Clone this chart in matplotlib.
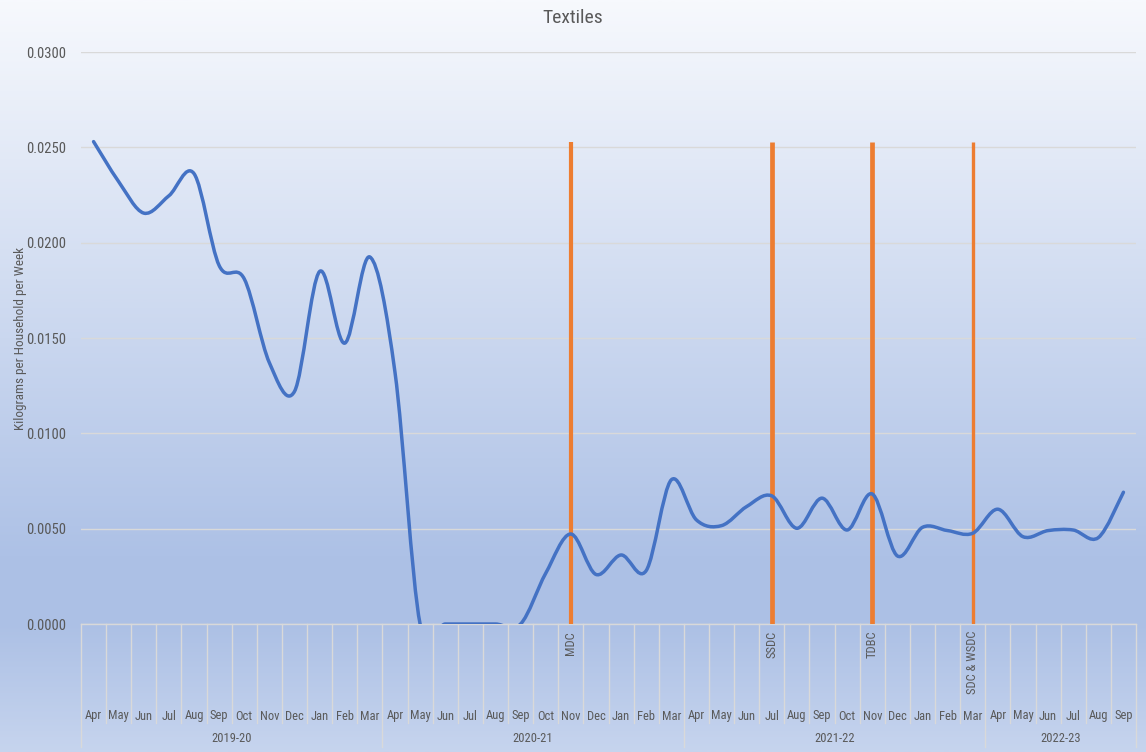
import os
import numpy as np
import matplotlib
matplotlib.use("Agg")
import matplotlib.pyplot as plt
from matplotlib.path import Path
from matplotlib.patches import PathPatch
from matplotlib.colors import LinearSegmentedColormap
import matplotlib.transforms as mtransforms
from matplotlib import font_manager as fm

# ---------------- data ----------------
months = ["Apr", "May", "Jun", "Jul", "Aug", "Sep", "Oct", "Nov", "Dec", "Jan", "Feb", "Mar",
          "Apr", "May", "Jun", "Jul", "Aug", "Sep", "Oct", "Nov", "Dec", "Jan", "Feb", "Mar",
          "Apr", "May", "Jun", "Jul", "Aug", "Sep", "Oct", "Nov", "Dec", "Jan", "Feb", "Mar",
          "Apr", "May", "Jun", "Jul", "Aug", "Sep"]
years = ["2019-20", "2020-21", "2021-22", "2022-23"]
year_lengths = [12, 12, 12, 6]

textiles = [0.0253, 0.0232, 0.02155, 0.02246, 0.02362, 0.0188, 0.0181, 0.0137, 0.0122, 0.01849, 0.01473, 0.01925,
            0.0132, 0.0, 0.0, 0.0, 0.0, 0.0, 0.00266, 0.00472, 0.0026, 0.00362, 0.0028, 0.00756,
            0.00546, 0.00516, 0.00616, 0.00672, 0.00502, 0.0066, 0.00493, 0.00682, 0.00357, 0.00507, 0.0049, 0.00476,
            0.00602, 0.00458, 0.0049, 0.00493, 0.00453, 0.00691]

event_labels = ["MDC", "SSDC", "TDBC", "SDC & WSDC"]
event_index = [19, 27, 31, 35]
event_height = [0.0253, 0.0253, 0.0253, 0.0253]

# ---------------- font choice (prefer a narrow sans) ----------------
narrow_fp = None
cands = ["LiberationSansNarrow-Regular", "ArialNarrow", "Arial Narrow", "RobotoCondensed-Regular",
         "Roboto_Condensed", "OpenSans_Condensed-Regular", "OpenSansCondensed", "DejaVuSansCondensed.ttf"]
files = [f.fname for f in fm.fontManager.ttflist]
for c in cands:
    hit = [p for p in files if c.lower() in os.path.basename(p).lower()
           and "bold" not in os.path.basename(p).lower() and "italic" not in os.path.basename(p).lower()
           and "oblique" not in os.path.basename(p).lower()]
    if hit:
        narrow_fp = hit[0]
        break


def fp(size):
    if narrow_fp:
        return fm.FontProperties(fname=narrow_fp, size=size)
    return fm.FontProperties(family=["Liberation Sans", "DejaVu Sans"], size=size * 0.92)


# ---------------- figure ----------------
W, H = 1146, 752
fig = plt.figure(figsize=(W / 100, H / 100), dpi=100)
plt.rcParams["font.family"] = ["Liberation Sans", "DejaVu Sans"]
grey = "#595959"

# background gradient
bg = fig.add_axes([0, 0, 1, 1], zorder=-10)
cmap = LinearSegmentedColormap.from_list(
    "bg", [(0.0, "#f7f9fd"), (0.74, "#adc1e6"), (0.83, "#acc0e5"), (1.0, "#c6d4ee")])
grad = np.linspace(0, 1, 512).reshape(-1, 1)
bg.imshow(grad, aspect="auto", cmap=cmap, extent=[0, 1, 0, 1], origin="upper")
bg.set_axis_off()

left_px, right_px, top_px, bottom_px = 81, 1136, 52, 624
ax = fig.add_axes([left_px / W, 1 - bottom_px / H, (right_px - left_px) / W, (bottom_px - top_px) / H])
ax.set_facecolor("none")
n = len(textiles)
x = np.arange(n)
ax.set_xlim(-0.5, n - 0.5)
ax.set_ylim(0, 0.03)
yt = np.arange(0, 0.0301, 0.005)
ax.set_yticks(yt)
ax.set_yticklabels([f"{v:.4f}" for v in yt], color=grey, fontproperties=fp(10.5))
ax.tick_params(axis="y", length=0, pad=11)
ax.set_xticks([])
for s in ["left", "right", "top"]:
    ax.spines[s].set_visible(False)
ax.spines["bottom"].set_color("#d9d9d9")
ax.spines["bottom"].set_linewidth(1.0)
ax.yaxis.grid(True, color="#d9d9d9", linewidth=1.0)
ax.set_axisbelow(True)

# orange event lines
widths = [3.0, 3.4, 3.4, 2.4]
for idx, h, lw in zip(event_index, event_height, widths):
    ax.vlines(x[idx], 0, h, color="#ed7d31", linewidth=lw, zorder=3)

# smoothed line (Catmull-Rom style bezier like Excel)
y = np.array(textiles)
pts = np.column_stack([x, y])
verts = [tuple(pts[0])]
codes = [Path.MOVETO]
for i in range(n - 1):
    p0 = pts[i - 1] if i > 0 else pts[i]
    p1 = pts[i]
    p2 = pts[i + 1]
    p3 = pts[i + 2] if i + 2 < n else pts[i + 1]
    c1 = p1 + (p2 - p0) / 6.0
    c2 = p2 - (p3 - p1) / 6.0
    verts += [tuple(c1), tuple(c2), tuple(p2)]
    codes += [Path.CURVE4] * 3
patch = PathPatch(Path(verts, codes), facecolor="none", edgecolor="#4472c4",
                  linewidth=2.5, capstyle="round", joinstyle="round", zorder=4)
ax.add_patch(patch)

# category axis (multi-level)
ax_h = bottom_px - top_px


def fy(px):
    return -px / ax_h


trans = mtransforms.blended_transform_factory(ax.transData, ax.transAxes)
year_edges = np.cumsum([0] + year_lengths)
for b in range(n + 1):
    xb = b - 0.5
    depth = 123 if b in year_edges else 99
    ax.plot([xb, xb], [0, fy(depth)], transform=trans, color="#d9d9d9",
            linewidth=1.0, clip_on=False, zorder=2)

for i, m in enumerate(months):
    ax.text(x[i], fy(92), m, transform=trans, ha="center", va="center",
            fontproperties=fp(9), color=grey)

for k, yr in enumerate(years):
    cx = (year_edges[k] + year_edges[k + 1]) / 2 - 0.5
    ax.text(cx, fy(114), yr, transform=trans, ha="center", va="center",
            fontproperties=fp(9), color=grey)

for lab, idx in zip(event_labels, event_index):
    ax.text(x[idx], fy(7), lab, transform=trans, ha="center", va="top",
            rotation=90, fontproperties=fp(9), color=grey)

ax.set_ylabel("Kilograms per Household per Week", color=grey, fontproperties=fp(9.5))
ax.yaxis.set_label_coords((27 - left_px) / (right_px - left_px), 0.5)

fig.text(0.5, 1 - 18 / H, "Textiles", ha="center", va="center", fontproperties=fp(14), color=grey)

fig.savefig("out.png", dpi=100)
